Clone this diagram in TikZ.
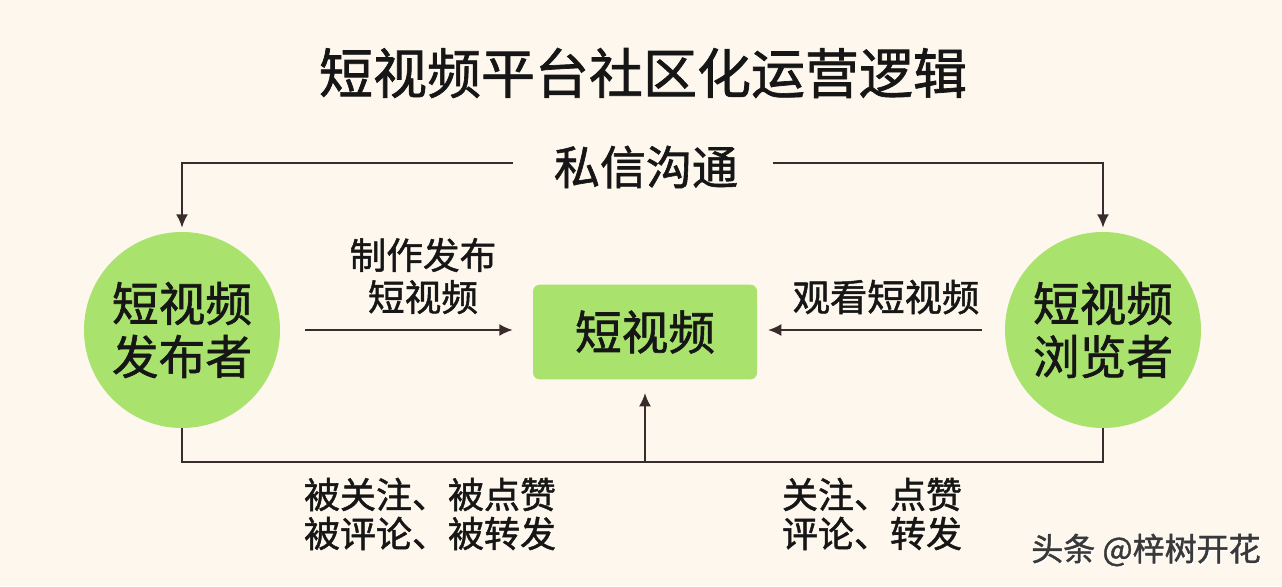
\documentclass[tikz,border=0pt]{standalone}
\usepackage{fontspec}
\setmainfont{Noto Sans CJK SC}[FakeBold=1.3]
\usetikzlibrary{arrows.meta,positioning}
\definecolor{bg}{HTML}{FDF7EE}
\definecolor{gr}{HTML}{A9E26C}
\definecolor{ln}{HTML}{3A2C2C}
\definecolor{tx}{HTML}{161616}
\newcommand{\px}[2]{\fontsize{#1pt}{#2pt}\selectfont}
\tikzset{
  conn/.style={draw=ln, line width=1.6pt},
  arr/.style={conn, -{Latex[length=10pt,width=9pt]}},
  circ/.style={circle, fill=gr, minimum size=147pt, inner sep=0pt, align=center, text=tx, font=\px{35}{39.75}},
  rbox/.style={rectangle, rounded corners=5pt, fill=gr, minimum width=168pt, minimum height=71pt, text=tx, font=\px{35}{40}},
  lbl/.style={text=tx, align=center, inner sep=0pt},
}
\begin{document}
\begin{tikzpicture}[x=0.75pt,y=-0.75pt]
\fill[bg] (0,0) rectangle (1282,586);
\useasboundingbox (0,0) rectangle (1282,586);
% title
\node[lbl, font=\px{40.5}{45}] (title) at (643,73) {短视频平台社区化运营逻辑};
% nodes
\node[circ] (pub) at (182,330) {短视频\\发布者};
\node[circ] (view) at (1103,330) {短视频\\浏览者};
\node[rbox] (vid) at (645,332) {短视频};
% private message
\node[lbl, font=\px{34.5}{40}] (pm) at (646,167) {私信沟通};
\coordinate (tl) at (182,163);
\coordinate (tr) at (1103,163);
\coordinate (pmL) at (513,163);
\coordinate (pmR) at (773,163);
\draw[arr] (pmL) -- (tl) -- ([yshift=3pt]pub.north);
\draw[arr] (pmR) -- (tr) -- ([yshift=3pt]view.north);
% make/publish
\coordinate (a1s) at (305,330);
\draw[arr] (a1s) -- ([xshift=-15pt]vid.west |- a1s);
\node[lbl, font=\px{27.5}{31.5}] (mk) at (423,276) {制作发布\\短视频};
% watch
\coordinate (a2s) at (982,330);
\draw[arr] (a2s) -- ([xshift=8pt]vid.east |- a2s);
\node[lbl, font=\px{28}{32}] (wt) at (886,297) {观看短视频};
% bottom feedback
\coordinate (bl) at (182,462);
\coordinate (br) at (1103,462);
\coordinate (bm) at (645,462);
\draw[conn] (pub.south) -- (bl) -- (br) -- (view.south);
\draw[arr] (bm) -- ([yshift=-10pt]vid.south);
\node[lbl, font=\px{27}{29.25}] (fb1) at (430,514) {被关注、被点赞\\被评论、被转发};
\node[lbl, font=\px{27}{29.25}] (fb2) at (872,514) {关注、点赞\\评论、转发};
% watermark
\node[lbl, font=\px{24}{28}, text=white] (wm0) at (1147.5,551.5) {头条 @梓树开花};
\node[lbl, font=\px{24}{28}, text=tx!85] (wm) at (1146,550) {头条 @梓树开花};
\end{tikzpicture}
\end{document}
